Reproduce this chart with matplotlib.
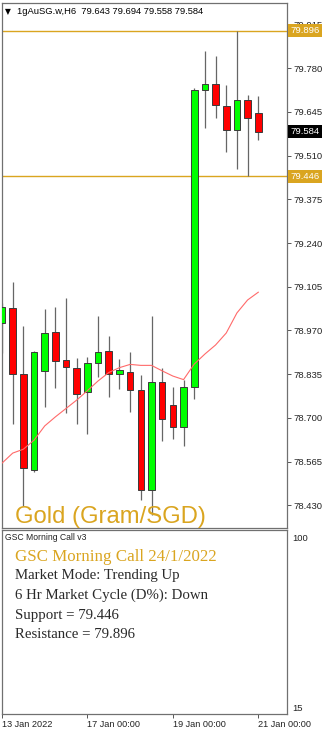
import matplotlib
matplotlib.use('Agg')
import matplotlib.pyplot as plt
import matplotlib.transforms as mtransforms

# ---------------- data ----------------
symbol_header = "1gAuSG.w,H6  79.643 79.694 79.558 79.584"
opens  = [78.994, 79.040, 78.834, 78.539, 78.845, 78.965, 78.879, 78.855, 78.779, 78.868,
          78.906, 78.834, 78.841, 78.785, 78.477, 78.810, 78.740, 78.673, 78.794, 79.712,
          79.732, 79.664, 79.588, 79.681, 79.643]
highs  = [79.055, 79.119, 78.984, 78.906, 79.035, 79.043, 79.071, 78.884, 78.887, 79.014,
          78.953, 78.881, 78.903, 78.831, 79.014, 78.853, 78.796, 78.817, 79.718, 79.833,
          79.818, 79.728, 79.896, 79.697, 79.694]
lows   = [78.900, 78.680, 78.428, 78.532, 78.732, 78.793, 78.714, 78.681, 78.650, 78.825,
          78.765, 78.788, 78.719, 78.446, 78.400, 78.628, 78.634, 78.613, 78.757, 79.595,
          79.627, 79.521, 79.468, 79.446, 79.558]
closes = [79.041, 78.834, 78.544, 78.902, 78.963, 78.875, 78.856, 78.773, 78.868, 78.902,
          78.836, 78.847, 78.785, 78.477, 78.812, 78.695, 78.673, 78.794, 79.712, 79.732,
          79.665, 79.588, 79.683, 79.627, 79.584]
ma_index = list(range(-1, 25))
ma_values = [78.545, 78.560, 78.591, 78.603, 78.631, 78.675, 78.703, 78.729, 78.755, 78.784,
             78.814, 78.840, 78.855, 78.865, 78.862, 78.862, 78.845, 78.829, 78.818, 78.866,
             78.897, 78.925, 78.962, 79.024, 79.064, 79.088]
support = 79.446
resistance = 79.896
last_price = 79.584
price_ticks = [78.430, 78.565, 78.700, 78.835, 78.970, 79.105, 79.240, 79.375, 79.510,
               79.645, 79.780, 79.915]
date_tick_idx = [0, 8, 16, 24]
date_tick_labels = ["13 Jan 2022", "17 Jan 00:00", "19 Jan 00:00", "21 Jan 00:00"]
osc_ticks = [100, 15]
info_title = "GSC Morning Call 24/1/2022"
info_lines = ["Market Mode: Trending Up", "6 Hr Market Cycle (D%): Down",
              "Support = 79.446", "Resistance = 79.896"]

# ---------------- style ----------------
GOLD = '#DAA520'
BORDER = '#707070'
SANS = ['Liberation Sans', 'DejaVu Sans']
SERIF = ['Liberation Serif', 'DejaVu Serif']

W, H = 326, 731
fig = plt.figure(figsize=(W / 100, H / 100), dpi=100)
fig.patch.set_facecolor('white')

def px_axes(l, t, r, b):
    return fig.add_axes([l / W, (H - b) / H, (r - l) / W, (b - t) / H])

ax = px_axes(1.5, 2.5, 287, 528)
ax2 = px_axes(1.5, 530, 287, 714)

for a in (ax, ax2):
    for s in a.spines.values():
        s.set_color(BORDER)
        s.set_linewidth(0.9)
    a.set_facecolor('white')

# ---- candles ----
idx = list(range(len(opens)))
ax.vlines(idx, lows, highs, color='#666666', linewidth=0.9, zorder=2)
bottoms = [min(o, c) for o, c in zip(opens, closes)]
heights = [max(abs(c - o), 0.002) for o, c in zip(opens, closes)]
colors = ['#00FF00' if c >= o else '#FF0000' for o, c in zip(opens, closes)]
ax.bar(idx, heights, bottom=bottoms, width=0.62, color=colors,
       edgecolor='#3a3a3a', linewidth=0.7, zorder=3)

# moving average
ax.plot(ma_index, ma_values, color='#FF6A6A', linewidth=0.8, zorder=4)

# support / resistance
ax.axhline(resistance, color=GOLD, linewidth=1.0, zorder=1)
ax.axhline(support, color=GOLD, linewidth=1.0, zorder=1)

ax.set_xlim(-0.05, 26.69)
ax.set_ylim(78.3596, 79.983)
ax.set_xticks([])
ax.yaxis.tick_right()
ax.set_yticks(price_ticks)
ax.set_yticklabels([f"{v:.3f}" for v in price_ticks], fontsize=6.8, family=SANS, color='#222222')
ax.tick_params(axis='y', direction='out', length=3, width=0.7, color='#555555', pad=1.5)

trans = mtransforms.blended_transform_factory(ax.transAxes, ax.transData)
for val, fc in ((resistance, GOLD), (support, GOLD), (last_price, 'black')):
    ax.text(1.012, val, f"{val:.3f}", transform=trans, fontsize=6.8, family=SANS,
            color='white', va='center', ha='left', clip_on=False, zorder=10,
            bbox=dict(boxstyle='square,pad=0.22', facecolor=fc, edgecolor='none'))

# header
ax.text(0.012, 0.9835, "\u25BC", transform=ax.transAxes, fontsize=5.5,
        family=['DejaVu Sans'], va='center', ha='left', color='black')
ax.text(0.054, 0.9835, symbol_header, transform=ax.transAxes, fontsize=6.75,
        family=SANS, va='center', ha='left', color='black')

# watermark-like title
ax.text(0.047, 0.0086, "Gold (Gram/SGD)", transform=ax.transAxes, fontsize=17.2,
        family=SANS, color=GOLD, va='baseline', ha='left', zorder=6)

# ---- lower panel ----
ax2.set_xlim(-0.05, 26.69)
ax2.set_ylim(12.0, 103.5)
ax2.yaxis.tick_right()
ax2.set_yticks(osc_ticks)
ax2.set_yticklabels([str(v) for v in osc_ticks], fontsize=6.8, family=SANS, color='#222222')
ax2.tick_params(axis='y', length=0, pad=4)
ax2.set_xticks(date_tick_idx)
ax2.set_xticklabels(date_tick_labels, fontsize=6.6, family=SANS, color='#222222', ha='left')
ax2.tick_params(axis='x', direction='out', length=3, width=0.7, color='#555555', pad=1.5)

def by(y):
    return (714 - y) / 184

ax2.text(0.012, by(537.5), "GSC Morning Call v3", transform=ax2.transAxes, fontsize=6.2,
         family=SANS, va='center', ha='left', color='#222222')
ax2.text(0.049, by(560.7), info_title, transform=ax2.transAxes, fontsize=12.2,
         family=SERIF, va='baseline', ha='left', color=GOLD)
for k, line in enumerate(info_lines):
    ax2.text(0.049, by(578.5 + 20 * k), line, transform=ax2.transAxes, fontsize=10.7,
             family=SERIF, va='baseline', ha='left', color='#2a2a2a')

fig.savefig('out.png', dpi=100, facecolor='white')
